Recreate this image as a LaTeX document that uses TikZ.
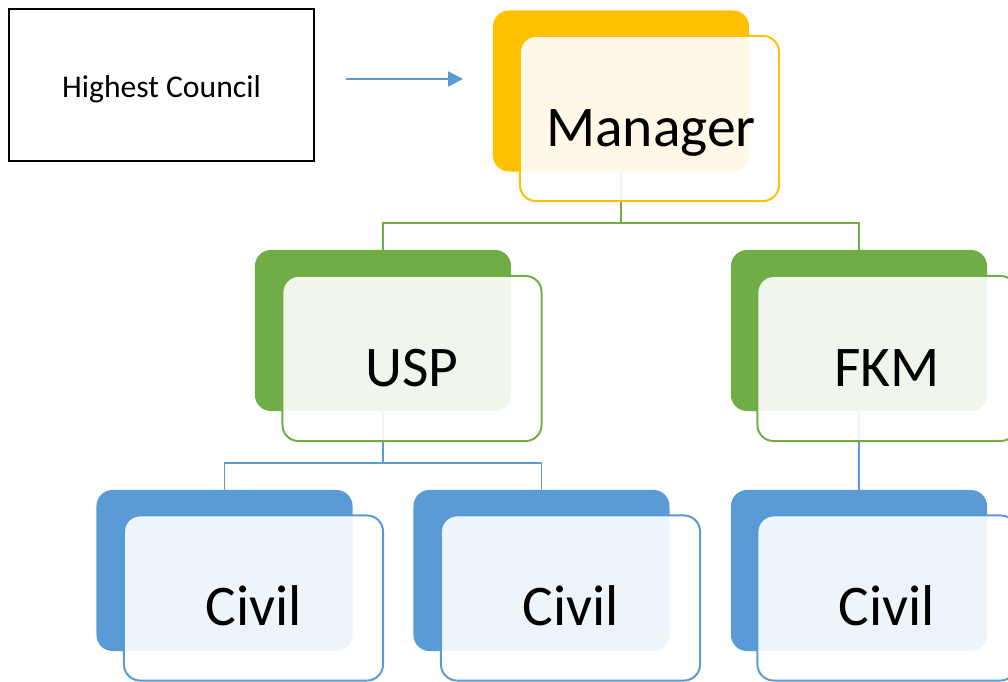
\documentclass[tikz,border=0pt]{standalone}
\usepackage{fontspec}
\setmainfont{Carlito}
\usepackage{tikz}
\usetikzlibrary{arrows.meta,backgrounds}

\definecolor{mgryellow}{HTML}{FFC000}
\definecolor{unitgreen}{HTML}{70AD47}
\definecolor{deptblue}{HTML}{5B9BD5}

\begin{document}
\begin{tikzpicture}[x=0.025cm,y=-0.025cm,
  back/.style={rectangle,rounded corners=0.4cm,minimum width=6.4cm,minimum height=4.025cm,inner sep=0pt,outer sep=0pt},
  front/.style={rectangle,rounded corners=0.4cm,minimum width=6.475cm,minimum height=4.125cm,inner sep=0pt,outer sep=0pt,line width=1.4pt,fill=white,fill opacity=0.9},
  big/.style={anchor=base,inner sep=0pt,font=\fontsize{40.9pt}{48pt}\selectfont},
  conn/.style={line width=1.4pt}]
\clip (0,0) rectangle (1008,682);
\node[draw=black,line width=1.4pt,minimum width=7.625cm,minimum height=3.8cm,text height=22pt,text depth=4pt,font=\fontsize{22.5pt}{27pt}\selectfont] (HC) at (161.5,85) {Highest Council};
\coordinate (arrS) at (346,79);
\coordinate (arrE) at (463,79);
\draw[conn,deptblue,-{Triangle[length=10.5pt,width=10.5pt]}] (arrS) -- (arrE);
% back boxes
\node[back,fill=mgryellow] (MGRB) at (621,91) {};
\node[back,fill=unitgreen] (USPB) at (383,330.5) {};
\node[back,fill=unitgreen] (FKMB) at (859,330.5) {};
\node[back,fill=deptblue] (CIV1B) at (224.5,570.5) {};
\node[back,fill=deptblue] (CIV2B) at (541.5,570.5) {};
\node[back,fill=deptblue] (CIV3B) at (859,570.5) {};
% connectors, behind the boxes
\begin{scope}[on background layer]
\draw[conn,unitgreen] (MGRB.south) -- ++(0,51) -| (USPB.north);
\draw[conn,unitgreen] (MGRB.south) -- ++(0,51) -| (FKMB.north);
\draw[conn,deptblue] (USPB.south) -- ++(0,52) -| (CIV1B.north);
\draw[conn,deptblue] (USPB.south) -- ++(0,52) -| (CIV2B.north);
\draw[conn,deptblue] (FKMB.south) -- (CIV3B.north);
\end{scope}
% front boxes
\node[front,draw=mgryellow] (MGRF) at (649.5,118.5) {};
\node[front,draw=unitgreen] (USPF) at (412,358.5) {};
\node[front,draw=unitgreen] (FKMF) at (887,358.5) {};
\node[front,draw=deptblue] (CIV1F) at (253.5,598) {};
\node[front,draw=deptblue] (CIV2F) at (570.5,598) {};
\node[front,draw=deptblue] (CIV3F) at (887,598) {};
% labels
\node[big] (MGR) at (651,147) {Manager};
\node[big] (USP) at (412,387) {USP};
\node[big] (FKM) at (887,387) {FKM};
\node[big] (CIV1) at (253.5,625) {Civil};
\node[big] (CIV2) at (570.5,625) {Civil};
\node[big] (CIV3) at (887,625) {Civil};
\end{tikzpicture}
\end{document}
